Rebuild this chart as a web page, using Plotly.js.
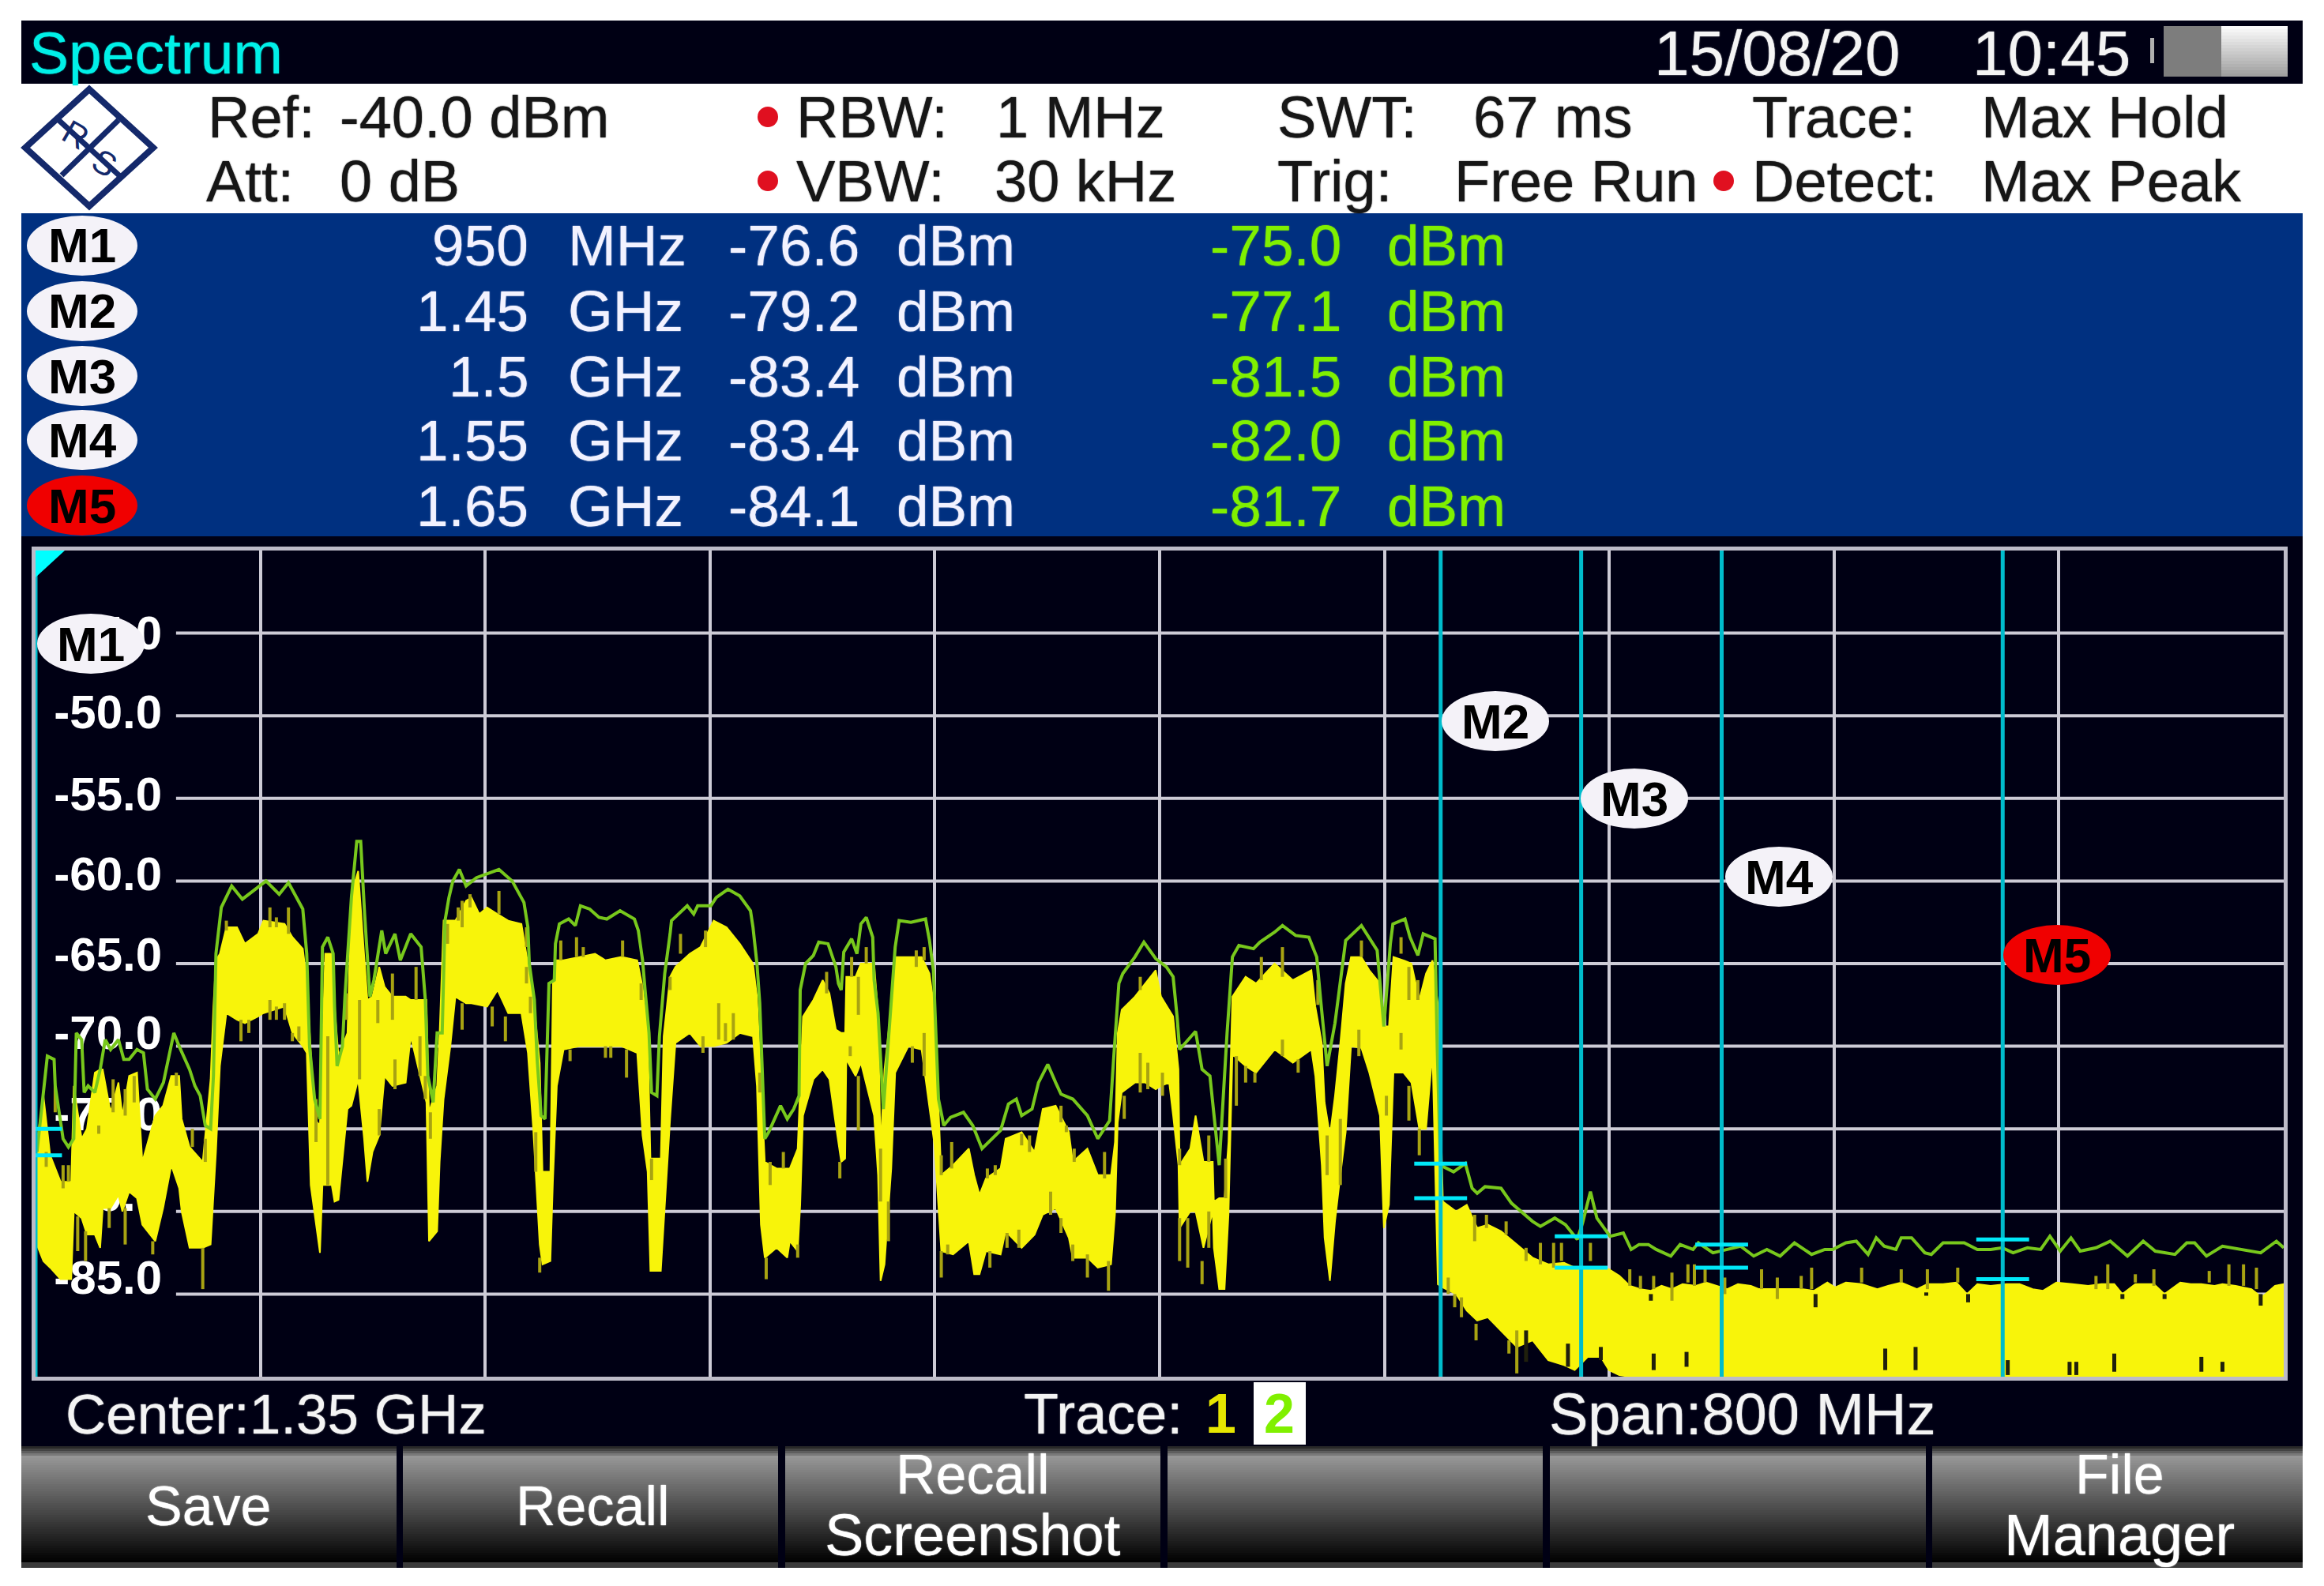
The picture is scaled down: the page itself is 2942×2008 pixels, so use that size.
<!DOCTYPE html>
<html>
<head>
<meta charset="utf-8">
<script src="https://cdn.plot.ly/plotly-3.0.1.min.js"></script>
<style>html,body{margin:0;padding:0;background:#fff}</style>
</head>
<body>
<div id="plotlyDiv" style="width:2942px;height:2008px"></div>
<script>
// trace 1 (yellow) envelope, MHz / dBm
var traceFreq = [950,952.8,955.2,958.9,962.7,963.6,966.4,968.3,971.1,973,973.9,976.7,979.5,980.9,983.3,986.1,988,992.6,995.4,998.3,1001.1,1002,1004.8,1009.5,1012.3,1013.3,1014.2,1015.6,1017.9,1021.7,1024.5,1029.2,1031.1,1038.6,1041.4,1045.1,1046.5,1047.9,1049.3,1051.2,1052.1,1053.1,1055.4,1056.4,1057.8,1059.2,1061,1062.4,1064.8,1066.9,1068.1,1069.9,1072.3,1074.2,1077,1081.7,
 1083.5,1089.1,1090,1092.9,1093.8,1095.2,1097.6,1099.4,1103.2,1105.1,1107.9,1110.7,1114.4,1118.2,1122.9,1125.2,1127.1,1129.4,1130.4,1133.2,1134.1,1135.5,1137.9,1143.5,1149.1,1152.8,1158.5,1164.1,1166,1167.8,1168.8,1172.5,1173.5,1175.8,1177.7,1182.8,1186.6,1191.3,1195.9,1200.6,1205.3,1206.7,1208.1,1209.5,1213.7,1217.5,
 1218.4,1221.2,1222.1,1223.1,1226.8,1230.1,1232.5,1234.8,1236.7,1238.1,1238.5,1241.8,1243.7,1248.4,1249.8,1250.7,1252.1,1254.5,1255.9,1260.6,1265.3,1268.1,1269.9,1272.3,1276.5,1282.1,1284,1285.9,1288.2,1293.4,1295.2,1300.9,1305.5,1308.4,1313,1317.7,1319.1,1324.3,1328,1332.7,1334.1,1335.1,1336.5,1341.2,1344.9,1348.6,1350.5,
 1353.4,1354.8,1356.7,1357.1,1360.9,1362.8,1365.6,1368.9,1369.3,1371.2,1373.1,1374.5,1375.9,1380.6,1384.3,1390.9,1397.4,1404,1405.4,1407.7,1408.7,1410.6,1412.4,1414.3,1416.2,1418.1,1421.8,1424.6,1428.4,1429.8,1431.6,1433.2,1436.8,1439.6,1442.4,1444.8,1447.1,1449,1450.8,1455.5,1459.3,1463,1466.8,1471.5,1477.1,1482.7,1488.3,
 1493.9,1497.7,1502.4,1507,1509.9,1513.6,1517.3,1521.1,1524.8,1528.6,1532.3,1536.1,1540.8,1544.5,1548.3,1552,1555.8,1560.4,1563.3,1567.9,1572.6,1578.3,1582.9,1587.6,1590.4,1594.2,1599.8,1605.4,1609.2,1613.9,1619.5,1623.2,
 1628.8,1633.5,1637.3,1641,1645.7,1651.3,1656,1660.7,1664.4,1669.1,1674.8,1680.4,1685.1,1689.7,1692.6,1697.2,1703.8,1707.6,1713.2,1716.9,1720.7,1725.4,1728.2,1732.9,1738.5,1742.2,1746.9,1750];
var traceHigh = [-76.4,-73,-76.6,-78.2,-78.2,-72.4,-75.6,-75,-71.6,-71.4,-71.4,-74,-72.2,-74.2,-71.8,-71.6,-77,-74.2,-73.6,-71.8,-71.8,-74.4,-76.1,-77,-72,-67.6,-64.8,-64.4,-62.8,-62.8,-63.8,-63.2,-62.4,-62.6,-63.4,-64.1,-66,-70.2,-74.4,-74.8,-69.6,-64.4,-64.4,-67.6,-70.6,-70,-69.2,-60.8,-59.4,-64.4,-67.2,-67,-65.2,-66.4,-67,-67,
 -67.2,-67.2,-74,-72.4,-69.2,-62.4,-62.4,-62.4,-61.2,-61,-62,-61.6,-62,-62.4,-62.6,-65,-67,-71,-77.6,-77.6,-66.2,-64.8,-64.8,-64.6,-64.4,-64.8,-64.6,-64.8,-66.4,-69.2,-76.8,-76.8,-69.4,-65.8,-65.2,-64.4,-64,-62.4,-62.8,-63.8,-65,-67,-72.4,-77,-77.4,-77.4,
 -77.4,-76.2,-72.2,-68.2,-67.2,-66,-66.8,-69,-69.2,-69.2,-65.8,-65.8,-65,-65,-68,-76.2,-71.4,-67.6,-64.6,-64.6,-64.6,-65.6,-67.8,-77.8,-77.2,-76.2,-77.8,-79,-78,-77.4,-75.6,-75.2,-76.4,-73.8,-73.6,-75.2,-77,-76.2,-77.8,-77.8,-75.8,-69.2,-67.8,-67,-66.2,-65.4,-67,
 -67.8,-68.2,-71.4,-77.2,-76.2,-74.2,-77,-77,-79.4,-79.2,-79.2,-75.8,-67,-65.8,-66.2,-65,-66,-65.4,-67.6,-69.8,-73.4,-75.4,-73,-69.8,-66.2,-64.6,-64.6,-65.4,-66.2,-68.8,-68.8,-64.6,-64.8,-65,-67.2,-65.6,-64.8,-67.4,-79.4,-80,-79.6,-81,-80.8,-81.2,-82,-82.8,-83.2,
 -83.1,-83.4,-83.4,-83.5,-83.5,-83.9,-84.5,-84.7,-84.8,-84.5,-84.7,-84.4,-84.5,-84.3,-84.5,-84.7,-84.4,-84.5,-84.7,-84.7,-84.7,-84.7,-84.8,-84.3,-84.6,-84.3,-84.4,-84.7,-84.5,-84.3,-84.7,-84.4,
 -84.4,-84.3,-85,-84.4,-84.5,-84.4,-84.4,-84.7,-84.8,-84.3,-84.4,-84.5,-84.4,-84.4,-85,-84.4,-84.4,-85,-84.3,-84.4,-84.4,-84.5,-84.4,-84.5,-84.7,-85.2,-84.5,-84.4];
var traceLow = [-81.8,-83,-83.4,-84.1,-84.1,-80,-80.4,-81.4,-81.4,-82.2,-79.8,-79.8,-79,-80,-78.8,-79.2,-80.8,-81.8,-79.8,-77.2,-78.6,-80,-82.2,-82.2,-82,-79.2,-76.4,-71.2,-68,-68.4,-68.6,-68.2,-68,-67.6,-69.2,-70,-70.4,-78.4,-80.2,-82.5,-78.4,-78.4,-78.4,-79.4,-79.3,-76.8,-73.8,-73.6,-72,-75.6,-78.2,-76.4,-75.4,-71.8,-72.4,-72.2,
 -69.4,-73.4,-81.8,-81.2,-77,-73.2,-70,-67,-67.4,-67.4,-67.5,-67.6,-66.6,-68,-68,-70.4,-75,-82,-83.2,-83,-78.2,-72.4,-70.2,-70,-70,-70,-70,-70.4,-75.4,-77.6,-83.6,-83.6,-80.8,-74.4,-69.8,-69.2,-70,-70,-69.8,-69.2,-69.4,-72.4,-80.8,-82.8,-82.2,-82.8,
 -81.8,-82.4,-79.6,-74.2,-72,-71.4,-72,-74.8,-77,-76.8,-70.8,-71.8,-71,-74.2,-77.8,-84.2,-83.2,-77.4,-71.6,-70,-70.2,-73.8,-76,-82.4,-82.6,-81.8,-83.8,-83.8,-82.4,-82.6,-81.2,-82.2,-81.4,-80.2,-79.8,-81.6,-82.8,-82.8,-83.4,-83.2,-80.2,-74.6,-72.8,-72.2,-72.2,-72.6,-72.4,
 -72.2,-74.2,-77.2,-81,-80,-80,-82.2,-80,-82.2,-84.7,-84.7,-80.2,-70.5,-71.2,-71.6,-70.2,-71,-70.2,-71.8,-77.2,-81.6,-84.2,-80.6,-77.8,-75.2,-70,-70.1,-71.6,-74.2,-81,-79.6,-71.6,-71.6,-72.2,-75,-75,-70.4,-84.4,-84.6,-85,-86,-86.6,-86.4,-87.2,-88.2,-87.8,-89,
 -89.3,-89.6,-88.8,-88.8,-89.6,-89.9,-90,-90,-90,-90,-90,-90,-90,-90,-90,-90,-90,-90,-90,-90,-90,-90,-90,-90,-90,-90,-90,-90,-90,-90,-90,-90,
 -90,-90,-90,-90,-90,-90,-90,-90,-90,-90,-90,-90,-90,-90,-90,-90,-90,-90,-90,-90,-90,-90,-90,-90,-90,-90,-90,-90];

// thin columns of trace 1 that stick out of the solid band, or notch into it
var spikeFreq = [953.8,957,959.8,961.7,965,967.8,972.5,976.2,977.6,981.9,981.9,985.1,991.7,1000.1,1005.8,1009.5,1010.4,1017.9,1023.1,1025.9,1033.4,1033.4,1035.7,1035.7,1038.6,1040,1041.4,1043.7,1049.8,1054,1060.6,1065.3,1071.8,1072.3,1077,1077.9,
 1085.4,1086.8,1088.7,1090.5,1096.6,1100.4,1101.8,1101.8,1104.6,1114.9,1112.5,1117.2,1124.7,1124.7,1126.1,1128,1129.4,1136.9,1142.5,1144.9,1140.2,1152.8,1154.7,1158.9,1160.3,1165.5,1169.2,1175.8,1179.5,1187.5,1188.4,1193.1,1195.5,1198.3,1207.7,1210,1211.4,1216.1,
 1221.2,1231.5,1240.4,1239.9,1242.8,1242.8,1245.6,1236.2,1250.7,1253.5,1262,1263.4,1266.2,1266.2,1272.3,1276,1272.3,1274.6,1288.7,1291.5,1289.6,1295.7,1299.9,1300.9,1303.7,1311.2,1314.9,1316.8,1314.9,1319.1,1319.6,1324.3,1330.4,1331.8,1337.4,1343.1,1343.1,1345.8,1351,
 1357.1,1360,1357.1,1365.1,1367.5,1367.5,1373.5,1377.3,1380.6,1383.9,1386.2,1393.7,1393.7,1399.3,1406.3,1409.6,1414.3,1421.8,1420.9,1430.7,1435.9,1435.9,1438.7,1438.7,1441.9,1442.4,1452.7,1455,1457.4,1462.1,1462.6,1466.3,1473.3,1474.3,1477.1,1480.4,1480.4,1485.5,
 1490.2,1493,1495.3,1503.3,1507,1517.3,1521.1,1525.8,1524.8,1532.3,1538,1540.3,1544.1,1551.1,1525.8,1537.5,1564.2,1569.8,1578.3,1582,1583.4,1599.8,1608.2,1613.9,1619,
 1623.2,1622.8,1634,1637.7,1651.8,1673.8,1676.2,1683.2,1687.4,1689.7,1692.6,1697.2,1703.8,1707.6,1720.7,1723.5,1730.5,1735.7,1740.3,1741.8,1728.2];
var spikeHigh = [-76.4,-72.4,-77.2,-77.2,-80.3,-81.2,-74.8,-79.8,-72,-72.6,-79.8,-71.8,-81.8,-71.6,-75,-82.2,-75.6,-62.4,-68.4,-68.4,-61.6,-67.2,-62.2,-67.6,-67.4,-61.6,-69.2,-68.8,-73.2,-69.4,-66.8,-67.2,-67.2,-73.8,-65.6,-70.8,
 -65.2,-69.4,-71.8,-74,-62.6,-61.6,-61.2,-67.4,-60.8,-60.6,-67.6,-68.2,-62.8,-65.2,-67,-75.2,-82.8,-63.6,-63.4,-64,-70.2,-70,-70,-63.6,-70.2,-66.2,-76.8,-65.8,-63.2,-69.4,-63,-67.4,-68.6,-68,-71.6,-82.8,-77,-76.4,
 -82,-65.5,-64.6,-70,-71.8,-65.8,-64,-77,-76.2,-79.4,-70,-64.2,-69.2,-64,-76.6,-75.8,-82.4,-82,-77.4,-77.2,-82.4,-81.3,-81.1,-75.3,-75.4,-78.8,-73.6,-74.8,-80.4,-82,-76.2,-82.6,-76.4,-83,-73,-70.4,-65.8,-71,-71.6,
 -80.4,-80.4,-76.2,-83,-75.4,-80,-76.8,-70.6,-71.2,-71.6,-64.6,-64,-69.6,-70.8,-66,-75.4,-74.4,-63.6,-69,-73,-63.4,-69.2,-65.2,-72.4,-66,-75,-84,-85,-85.2,-80.2,-86.8,-80.2,-80.6,-87.8,-87.2,-87.2,-82.2,-81.9,
 -81.9,-81.9,-88,-81.9,-88.2,-83.5,-83.9,-83.9,-85,-83.7,-83.2,-83.2,-83.5,-84,-88.6,-88.5,-83.5,-84,-83.9,-83.4,-85,-83.4,-88.3,-83.5,-88.2,
 -83.5,-84.9,-83.4,-85,-89,-89.1,-89.1,-83.9,-83.2,-88.6,-85,-83.8,-83.5,-85,-88.8,-83.6,-83.2,-83.2,-83.4,-85,-89.1];
var spikeLow = [-77.3,-74,-78.6,-78.2,-82.4,-83,-75.3,-81,-74,-74.2,-82,-73.4,-82.6,-72.4,-76.1,-84.7,-77,-63,-69.7,-69.2,-62.8,-68.4,-62.8,-68.4,-68.4,-63.2,-69.7,-69.7,-75.8,-78.4,-68.4,-72,-68.6,-75.4,-68.4,-72.6,
 -67.2,-71.8,-73.2,-75.6,-63.8,-62.4,-62.8,-69,-61.6,-62,-68.8,-69.7,-64,-66.2,-68,-77.6,-83.7,-64.8,-64.6,-64.6,-70.9,-70.7,-70.7,-64.6,-71.9,-67.2,-78.1,-66.6,-64.4,-70.4,-64,-69.6,-69.7,-69.6,-72.8,-84.1,-78.4,-77.4,
 -82.8,-66.8,-65.8,-70.6,-75.1,-68.1,-65,-78,-79.4,-81.8,-71,-65.2,-71.8,-64.8,-77.8,-77.4,-84,-82.6,-78,-77.8,-83.4,-82.2,-82.2,-76,-76.4,-80.2,-74.6,-75.2,-81.3,-83,-77,-84,-78,-84.8,-74.4,-72.8,-66.6,-72.6,-73,
 -83,-83.4,-77.2,-84.4,-77,-82.2,-79.2,-73.6,-72.2,-72.2,-66,-65.8,-70.6,-71.6,-67.5,-77.8,-78.4,-64.6,-70.6,-74.2,-64.4,-70.2,-67.2,-74.5,-67.2,-76.6,-85,-85.8,-86.4,-81.8,-87.8,-81,-81.4,-88.6,-89.8,-89.1,-83,-83.2,
 -83.4,-83,-89.4,-83,-89,-84.5,-84.7,-84.7,-85.4,-85.4,-84.3,-84.5,-84.3,-85,-89.6,-89.4,-84.7,-85.3,-84.7,-84.7,-85.8,-84.3,-89.6,-84.3,-89.6,
 -84.7,-85.1,-84.3,-85.5,-89.9,-89.9,-89.9,-84.7,-84.7,-89.7,-85.3,-84.3,-84.5,-85.3,-89.7,-84.3,-84.5,-84.5,-84.7,-85.7,-89.7];

// trace 2 (green, max hold)
var holdFreq = [950.5,952.8,954.2,956.6,957,958.4,959.8,961.7,963.6,964.5,966.4,967.3,968.7,971.1,973,974.8,976.7,979.5,981.4,983.3,986.1,988.4,989.8,992.6,995.5,999.2,1001.1,1004.8,1006.7,1008.6,1010.4,1012.3,1013.3,1014.2,1016.1,1019.8,1023.6,1028.2,1032,1036.7,1040,1045.1,1046.5,1047.5,1049.3,1051.2,1051.7,1052.1,1054,1055.9,1056.4,1057.3,1059.2,1060.1,1062.4,1064.3,1065.7,1067.1,1069,1070.4,1073.2,1074.6,1077.9,1079.8,1083.5,
 1087.2,1088.7,1089.6,1091.5,1092.9,1094.7,1095.7,1097.1,1098.5,1100.8,1103.2,1106.9,1110.2,1114.9,1119.6,1123.8,1125.2,1125.7,1127.5,1128.5,1129.9,1131.3,1132.7,1134.6,1135,1136.4,1139.7,1142.1,1143.9,1147.2,1150.5,1153.3,1158,1163.1,1164.5,1166,1166.9,1168.3,1169.2,1171.1,1172,1173.9,1175.8,1176.3,1181.9,1184.2,1185.6,1190.3,1192.2,1196.4,1200.6,1204.4,1205.3,1206.7,1207.7,1208.6,1209.5,1210.9,1215.1,1217.5,
 1219.8,1221.7,1222.1,1224,1226.8,1228.7,1232,1234.8,1235.7,1236.7,1237.6,1240.4,1242.3,1243.7,1245.6,1247.9,1248.4,1249.8,1251.7,1253.5,1255.9,1257.3,1261.5,1266.7,1268.1,1269.5,1271.3,1273.2,1275.6,1280.2,1283.5,1286.8,1290.6,1293.4,1296.2,1299,1300.9,1304.6,1306.9,1310.2,1313,1314.9,1319.1,1324.3,1328,1332.2,1333.7,1335.5,1336.9,1341.2,1344.4,1348.6,1352.4,
 1354.8,1356.2,1357.1,1362.8,1365.1,1367.9,1369.3,1371.2,1374,1375.9,1378.2,1383.4,1385.7,1390.9,1393.7,1398.4,1403.1,1405.9,1407.3,1409.6,1412.4,1416.2,1421.8,1427.4,1429.8,1432.1,1433,1437.3,1439.1,1441.9,1443.8,1448,1448.8,1449.9,1454.6,1458.8,1461.2,1463,1465.8,1471.5,1475.2,1482.7,1485.5,1488.3,
 1490.6,1494.4,1498.6,1500.5,1503.3,1505.6,1508,1510.3,1515,1517.8,1520.6,1523.9,1526.7,1531.9,1535.2,1539.8,1541.7,1546.9,1552,1556.7,1561.4,1566.1,1570.8,1575.9,1582,1586.7,1589.5,1594.2,1597.9,1602.1,1605,1607.8,1612,1613.9,1617.6,1622.3,
 1624.6,1628.8,1636.3,1641,1645.7,1649.9,1653.7,1658.8,1663.5,1666.8,1670.5,1674.3,1677.6,1683.2,1688.3,1694.4,1700,1704.3,1711.3,1715.5,1718.3,1722.5,1728.2,1734.7,1741.8,1747.4,1750];
var holdLevel = [-76.4,-73,-70.6,-70.8,-72.4,-74,-75.6,-76.1,-75.6,-69.2,-69.6,-72.8,-72.4,-72.8,-71.4,-69.6,-70.2,-69.6,-70.8,-70.8,-70.2,-70.4,-72.6,-73.2,-72.2,-69.2,-70,-71.4,-72.4,-73,-74.8,-75,-71.8,-64.4,-61.6,-60.3,-61.1,-60.5,-60,-60.8,-60.1,-61.7,-64.4,-70,-73.2,-74.4,-69.6,-64,-63.4,-64.4,-67.6,-71.2,-70,-67,-61,-57.6,-57.6,-62,-67,-66,-63,-64.4,-63.2,-64.8,-63.2,
 -64,-67.2,-71.8,-73.4,-69.2,-69.2,-62.4,-61,-60,-59.3,-60.3,-59.8,-59.6,-59.3,-60,-61.3,-62.8,-65,-67.2,-70.8,-74.2,-74.4,-66.2,-66,-63.8,-62.6,-62.3,-62.7,-61.5,-61.7,-62.2,-62.3,-61.8,-62.3,-63,-64.8,-66.6,-69.2,-72.8,-73,-69.4,-65.6,-63.2,-62.4,-61.5,-62,-61.5,-61.5,-61,-60.5,-60.9,-61.8,-62.8,-65,-67.4,-71.6,-75.6,-75.2,-73.6,-74.4,
 -73.8,-73,-66.6,-65,-64.5,-63.7,-63.8,-65.2,-66.2,-66.6,-64.3,-63.5,-64.4,-62.6,-62.2,-63.4,-66,-68,-73.8,-69.6,-64,-62.4,-62.5,-62.3,-63.6,-65.4,-73.2,-74.8,-74.3,-74,-74.8,-76.2,-75.6,-75.1,-73.5,-73.2,-74.2,-73.8,-72.2,-71.1,-72.2,-72.9,-73.2,-74.2,-75.6,-74.5,-70.6,-66.2,-65.6,-64.6,-63.7,-64.7,-65.2,
 -65.8,-68.2,-70.2,-69.1,-71.4,-71.8,-74.2,-77.2,-69.2,-64.6,-63.9,-64.1,-63.7,-63.1,-62.7,-63.3,-63.4,-64.6,-67.2,-71.2,-68.6,-63.6,-62.7,-64.2,-68.8,-63.8,-62.6,-62.3,-63.4,-64.5,-63.2,-63.5,-70.2,-77.2,-77.6,-77.1,-78.6,-78.9,-78.5,-78.6,-79.5,-80.6,-80.9,-80.6,
 -80.4,-80.8,-81.7,-80.7,-78.8,-80.4,-81,-81.5,-81.3,-82.3,-82,-82,-82.3,-82.7,-82,-82.3,-81.9,-82.5,-82.3,-82.1,-82.7,-82.3,-82.7,-81.9,-82.6,-82.3,-82.3,-81.9,-81.8,-82.6,-81.6,-82.1,-82.3,-81.6,-81.6,-82.5,
 -82.6,-81.9,-81.9,-82.3,-82.3,-82.2,-82.5,-82.2,-82.3,-81.5,-82.4,-81.6,-82.4,-82.2,-81.8,-82.7,-81.8,-82.4,-82.6,-81.9,-81.9,-82.7,-82.1,-82.3,-82.5,-81.8,-82.2];

// markers
var markerName = ['M1','M2','M3','M4','M5'];
var markerFreqText = ['950','1.45','1.5','1.55','1.65'];
var markerUnit = ['MHz','GHz','GHz','GHz','GHz'];
var markerFreq = [950,1450,1500,1550,1650];
var markerLevel1 = [-76.6,-79.2,-83.4,-83.4,-84.1];
var markerLevel2 = [-75.0,-77.1,-81.5,-82.0,-81.7];

var levelTicks = [-45,-50,-55,-60,-65,-70,-75,-80,-85];
var levelLabels = ['-45.0','-50.0','-55.0','-60.0','-65.0','-70.0','-75.0','-80.0','-85.0'];
var levelLabelAt = [-45.25,-50.05,-55,-59.85,-64.7,-69.45,-74.35,-79.25,-84.25];

var FONT = 'Liberation Sans, Arial, sans-serif';
var NAVY = '#14296b', DARK = '#000014', BLUE = '#003080', LIME = '#80f000';

function px(x) { return (x - 45) / (2891 - 45); }
function py(y) { return (1743 - y) / (1743 - 697); }

var shapes = [];
var annotations = [];

function rect(x0, y0, x1, y1, color, layer) {
    shapes.push({type: 'rect', xref: 'paper', yref: 'paper', x0: px(x0), x1: px(x1), y0: py(y0), y1: py(y1),
        fillcolor: color, line: {width: 0}, layer: layer || 'below'});
}
function oval(cx, cy, rx, ry, color, layer) {
    shapes.push({type: 'circle', xref: 'paper', yref: 'paper', x0: px(cx - rx), x1: px(cx + rx), y0: py(cy - ry), y1: py(cy + ry),
        fillcolor: color, line: {width: 0}, layer: layer || 'below'});
}
function seg(x0, y0, x1, y1, color, w) {
    shapes.push({type: 'line', xref: 'paper', yref: 'paper', x0: px(x0), x1: px(x1), y0: py(y0), y1: py(y1),
        line: {color: color, width: w}, layer: 'below'});
}
function label(text, x, y, anchor, color, size, weight) {
    annotations.push({text: text, xref: 'paper', yref: 'paper', x: px(x), y: py(y), xanchor: anchor, yanchor: 'middle',
        showarrow: false, font: {family: FONT, size: size, color: color, weight: weight || 'normal',
        shadow: weight ? 'none' : '0 0 1.5px ' + color}});
}
function grey(v) { var c = Math.round(v); return 'rgb(' + c + ',' + c + ',' + c + ')'; }

// instrument screen
rect(27, 26, 2915, 1985, DARK);
rect(27, 106, 2915, 270, '#ffffff');
rect(27, 270, 2915, 679, BLUE);

// header
label('Spectrum', 35, 67, 'left', '#00f0e8', 75);
label('15/08/20', 2092, 67, 'left', '#f4f4f4', 80);
label('10:45', 2495, 67, 'left', '#f4f4f4', 80);
rect(2722, 48, 2727, 80, '#b0b0b0');
rect(2739, 33, 2812, 97, '#7d7d7d');
for (var i = 0; i < 16; i++) {
    rect(2812, 33 + i * 4, 2896, 37 + i * 4, grey(250 - i * 6));
}

// R&S logo
shapes.push({type: 'path', xref: 'paper', yref: 'paper', layer: 'below', line: {color: NAVY, width: 8},
    path: 'M' + px(113) + ',' + py(113) + ' L' + px(194) + ',' + py(187) + ' L' + px(113) + ',' + py(261) + ' L' + px(32) + ',' + py(187) + ' Z'});
seg(72, 150, 154, 225, NAVY, 7);
seg(78, 222, 150, 152, NAVY, 7);
annotations.push({text: 'R', xref: 'paper', yref: 'paper', x: px(96), y: py(170), xanchor: 'center', yanchor: 'middle', showarrow: false, textangle: 30, font: {family: FONT, size: 42, color: NAVY}});
annotations.push({text: 'S', xref: 'paper', yref: 'paper', x: px(132), y: py(207), xanchor: 'center', yanchor: 'middle', showarrow: false, textangle: 30, font: {family: FONT, size: 42, color: NAVY}});

// setting lines
var INK = '#161616';
[['Ref:', 261, 148], ['-40.0 dBm', 428, 148], ['RBW:', 1006, 148], ['1 MHz', 1259, 148], ['SWT:', 1615, 148], ['67 ms', 1863, 148], ['Trace:', 2216, 148], ['Max Hold', 2506, 148],
 ['Att:', 259, 229], ['0 dB', 428, 229], ['VBW:', 1006, 229], ['30 kHz', 1257, 229], ['Trig:', 1615, 229], ['Free Run', 1839, 229], ['Detect:', 2216, 229], ['Max Peak', 2506, 229]
].forEach(function (t) { label(t[0], t[1], t[2], 'left', INK, 74); });
oval(972, 148, 13, 13, '#e01020');
oval(972, 229, 13, 13, '#e01020');
oval(2182, 229, 13, 13, '#e01020');

// marker table
var rowY = [311, 394, 476, 557, 640];
for (var r = 0; r < markerName.length; r++) {
    oval(104, rowY[r], 70, 38, r === 4 ? '#f00000' : '#f4f2f8');
    label(markerName[r], 104, rowY[r], 'center', '#000000', 62, 'bold');
    label(markerFreqText[r], 671, rowY[r], 'right', '#f2f2ff', 73);
    label(markerUnit[r], 717, rowY[r], 'left', '#f2f2ff', 73);
    label(markerLevel1[r].toFixed(1), 1090, rowY[r], 'right', '#f2f2ff', 73);
    label('dBm', 1133, rowY[r], 'left', '#f2f2ff', 73);
    label(markerLevel2[r].toFixed(1), 1700, rowY[r], 'right', LIME, 73);
    label('dBm', 1754, rowY[r], 'left', LIME, 73);
}

// level grid starts right of the labels, only the frame runs the full width
levelTicks.forEach(function (v) {
    shapes.push({type: 'line', xref: 'x', yref: 'y', x0: 1000, x1: 1750, y0: v, y1: v, layer: 'below',
        line: {color: '#cdcbd6', width: 4}});
});
// start of sweep flag
shapes.push({type: 'path', xref: 'paper', yref: 'paper', layer: 'above', fillcolor: '#00ffff', line: {width: 0},
    path: 'M' + px(45) + ',' + py(697) + ' L' + px(82) + ',' + py(697) + ' L' + px(45) + ',' + py(731) + ' Z'});

// marker badges in the diagram
var badgeX = [115, 1893, 2069, 2252, 2604];
var badgeY = [815, 913, 1011, 1110, 1209];
for (var b = 0; b < markerName.length; b++) {
    oval(badgeX[b], badgeY[b], 68, 38, b === 4 ? '#f00000' : '#f4f2f8', 'above');
    label(markerName[b], badgeX[b], badgeY[b], 'center', '#000000', 62, 'bold');
}

// status row
label('Center:1.35 GHz', 81, 1790, 'left', '#f4f4f4', 71);
label('Trace:', 1294, 1790, 'left', '#f4f4f4', 72);
label('1', 1545, 1790, 'center', '#e6e600', 70, 'bold');
rect(1587, 1750, 1653, 1829, '#ffffff');
label('2', 1620, 1790, 'center', LIME, 70, 'bold');
label('Span:800 MHz', 1959, 1790, 'left', '#f4f4f4', 74);

// softkeys
var keyEdges = [[27, 502], [510, 985], [994, 1469], [1478, 1953], [1962, 2438], [2446, 2915]];
keyEdges.forEach(function (k) {
    rect(k[0], 1831, k[1], 1985, '#3a3a3a');
    for (var y = 1831; y < 1976; y += 3) {
        var v = y < 1843 ? 40 + (y - 1831) * 9 : 150 * (1976 - y) / 133;
        rect(k[0], y, k[1], y + 3, grey(v));
    }
});
label('Save', 264, 1907, 'center', '#ffffff', 70);
label('Recall', 750, 1907, 'center', '#ffffff', 70);
label('Recall', 1231, 1867, 'center', '#ffffff', 70);
label('Screenshot', 1231, 1943, 'center', '#ffffff', 74);
label('File', 2683, 1867, 'center', '#ffffff', 70);
label('Manager', 2683, 1943, 'center', '#ffffff', 74);

// yellow band: high side forward, low side back
var bandX = traceFreq.concat(traceFreq.slice().reverse());
var bandY = traceHigh.concat(traceLow.slice().reverse());

// columns standing clear of the band are olive, the small holes in the flat noise floor are dark
var spikeX = [], spikeY = [], holeX = [], holeY = [];
for (var s = 0; s < spikeFreq.length; s++) {
    var isHole = spikeFreq[s] > 1480 && spikeHigh[s] <= -84.85;
    (isHole ? holeX : spikeX).push(spikeFreq[s], spikeFreq[s], null);
    (isHole ? holeY : spikeY).push(spikeHigh[s], spikeLow[s], null);
}

var lineX = [], lineY = [], tickX = [], tickY = [];
var halfWidth = 9.4;
for (var m = 0; m < markerFreq.length; m++) {
    lineX.push(markerFreq[m], markerFreq[m], null);
    lineY.push(-40, -90, null);
    tickX.push(markerFreq[m] - halfWidth, markerFreq[m] + halfWidth, null, markerFreq[m] - halfWidth, markerFreq[m] + halfWidth, null);
    tickY.push(markerLevel1[m], markerLevel1[m], null, markerLevel2[m], markerLevel2[m], null);
}

var traces = [
    {type: 'scatter', mode: 'text', x: levelTicks.map(function () { return 995; }), y: levelLabelAt, text: levelLabels,
        textposition: 'middle left', cliponaxis: false,
        textfont: {family: FONT, size: 60, color: '#ffffff', weight: 'bold'}},
    {type: 'scatter', mode: 'lines', x: bandX, y: bandY, fill: 'toself', fillcolor: '#f8f40a',
        line: {color: '#f8f40a', width: 2}},
    {type: 'scatter', mode: 'lines', x: spikeX, y: spikeY, connectgaps: false,
        line: {color: '#a8a312', width: 4}},
    {type: 'scatter', mode: 'lines', x: holeX, y: holeY, connectgaps: false,
        line: {color: '#20200c', width: 5}},
    {type: 'scatter', mode: 'lines', x: holdFreq, y: holdLevel,
        line: {color: '#78c81c', width: 4}},
    {type: 'scatter', mode: 'lines', x: lineX, y: lineY, connectgaps: false, cliponaxis: false,
        line: {color: '#00bccc', width: 5}},
    {type: 'scatter', mode: 'lines', x: tickX, y: tickY, connectgaps: false,
        line: {color: '#00e8f8', width: 5}}
];

var layout = {
    width: 2942,
    height: 2008,
    margin: {l: 45, r: 51, t: 697, b: 265, pad: 0},
    paper_bgcolor: '#ffffff',
    plot_bgcolor: DARK,
    showlegend: false,
    hovermode: false,
    font: {family: FONT},
    xaxis: {range: [950, 1750], tick0: 950, dtick: 80, showgrid: true, gridcolor: '#cdcbd6', gridwidth: 4,
        zeroline: false, showticklabels: false, ticks: '', showline: true, mirror: true, linecolor: '#bdbbc8', linewidth: 5, layer: 'below traces'},
    yaxis: {range: [-90, -40], showgrid: false, zeroline: false, showticklabels: false, ticks: '',
        showline: true, mirror: true, linecolor: '#bdbbc8', linewidth: 5, layer: 'below traces'},
    shapes: shapes,
    annotations: annotations
};

Plotly.newPlot('plotlyDiv', traces, layout, {displayModeBar: false, responsive: false});
</script>
</body>
</html>
